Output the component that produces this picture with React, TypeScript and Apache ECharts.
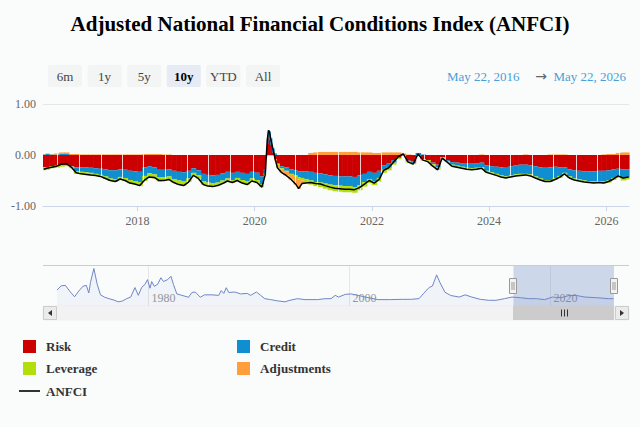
import React, { useEffect, useRef } from "react";
import * as echarts from "echarts";

const FONT = "'Liberation Serif', 'DejaVu Serif', serif";
const BG = "#fafbfb";

const titleText = "Adjusted National Financial Conditions Index (ANFCI)";
const rangeButtons = ["6m", "1y", "5y", "10y", "YTD", "All"];
const selectedButton = "10y";
const rangeStart = "2016-05-22";
const rangeEnd = "2026-05-22";
const rangeLabels = ["May 22, 2016", "May 22, 2026"];
const yTicks = [-1, 0, 1];
const navStart = "1971-01-01";
const navTicks = ["1980-01-01", "2000-01-01", "2020-01-01"];
const navTickLabels = ["1980", "2000", "2020"];

const dates = [
  "2016-05-27", "2016-06-15", "2016-07-15", "2016-08-15", "2016-09-15", "2016-10-15", "2016-11-15", "2016-12-15",
  "2017-01-15", "2017-02-15", "2017-03-15", "2017-04-15", "2017-05-15", "2017-06-15", "2017-07-15", "2017-08-15",
  "2017-09-15", "2017-10-15", "2017-11-15", "2017-12-15",
  "2018-01-15", "2018-02-15", "2018-03-15", "2018-04-15", "2018-05-15", "2018-06-15", "2018-07-15", "2018-08-15",
  "2018-09-15", "2018-10-15", "2018-11-15", "2018-12-15",
  "2019-01-15", "2019-02-15", "2019-03-15", "2019-04-15", "2019-05-15", "2019-06-15", "2019-07-15", "2019-08-15",
  "2019-09-15", "2019-10-15", "2019-11-15", "2019-12-15",
  "2020-01-15", "2020-02-15", "2020-03-06", "2020-03-13", "2020-03-20", "2020-03-27", "2020-04-03", "2020-04-10",
  "2020-04-24", "2020-05-08", "2020-05-22", "2020-06-15", "2020-07-15", "2020-08-15", "2020-09-15", "2020-10-01",
  "2020-10-22", "2020-11-15", "2020-12-15",
  "2021-01-15", "2021-02-15", "2021-03-15", "2021-04-15", "2021-05-15", "2021-06-15", "2021-07-15", "2021-08-15",
  "2021-09-15", "2021-10-15", "2021-11-15", "2021-12-15",
  "2022-01-15", "2022-02-15", "2022-03-15", "2022-04-15", "2022-05-15", "2022-06-15", "2022-07-15", "2022-08-15",
  "2022-09-15", "2022-10-15", "2022-11-15", "2022-12-15",
  "2023-01-15", "2023-02-15", "2023-03-15", "2023-04-15", "2023-05-15", "2023-06-15", "2023-07-15", "2023-08-15",
  "2023-09-15", "2023-10-15", "2023-11-15", "2023-12-15",
  "2024-01-15", "2024-02-15", "2024-03-15", "2024-04-15", "2024-05-15", "2024-06-15", "2024-07-15", "2024-08-15",
  "2024-09-15", "2024-10-15", "2024-11-15", "2024-12-15",
  "2025-01-15", "2025-02-15", "2025-03-15", "2025-04-15", "2025-05-15", "2025-06-15", "2025-07-15", "2025-08-15",
  "2025-09-15", "2025-10-15", "2025-11-15", "2025-12-15",
  "2026-01-15", "2026-02-15", "2026-03-15", "2026-04-15", "2026-05-20",
];

const anfci = [
  -0.28, -0.26, -0.24, -0.22, -0.18, -0.17, -0.24, -0.35,
  -0.37, -0.38, -0.39, -0.40, -0.42, -0.46, -0.50, -0.52, -0.47, -0.50, -0.55, -0.57,
  -0.60, -0.49, -0.43, -0.44, -0.50, -0.50, -0.48, -0.54, -0.58, -0.60, -0.53, -0.40,
  -0.46, -0.58, -0.61, -0.62, -0.60, -0.56, -0.51, -0.54, -0.50, -0.55, -0.58, -0.51,
  -0.54, -0.63, -0.40, -0.05, 0.30, 0.48, 0.45, 0.32, 0.12, -0.08, -0.25, -0.34, -0.40, -0.48, -0.58, -0.66,
  -0.56, -0.55, -0.54,
  -0.56, -0.57, -0.60, -0.63, -0.65, -0.66, -0.67, -0.67, -0.68, -0.64, -0.57, -0.50,
  -0.55, -0.48, -0.30, -0.25, -0.14, -0.03, 0.02, -0.14, -0.18, 0.02, -0.10, -0.13,
  -0.22, -0.29, -0.06, -0.14, -0.22, -0.24, -0.26, -0.28, -0.29, -0.28, -0.26, -0.34,
  -0.37, -0.40, -0.43, -0.45, -0.43, -0.41, -0.40, -0.39, -0.41, -0.45, -0.49, -0.52,
  -0.52, -0.48, -0.44, -0.37, -0.45, -0.49, -0.51, -0.53, -0.54, -0.55, -0.54, -0.55,
  -0.52, -0.47, -0.41, -0.45, -0.43,
];

const risk = [
  -0.24, -0.24, -0.22, -0.21, -0.19, -0.19, -0.22, -0.24,
  -0.24, -0.24, -0.25, -0.26, -0.27, -0.28, -0.30, -0.30, -0.28, -0.29, -0.31, -0.32,
  -0.33, -0.24, -0.22, -0.24, -0.29, -0.29, -0.28, -0.31, -0.33, -0.34, -0.31, -0.26,
  -0.30, -0.37, -0.39, -0.40, -0.39, -0.36, -0.33, -0.35, -0.33, -0.35, -0.37, -0.33,
  -0.35, -0.42, -0.28, 0.0, 0.22, 0.33, 0.30, 0.20, 0.05, -0.08, -0.17, -0.22, -0.24, -0.28, -0.30, -0.32,
  -0.32, -0.32, -0.33,
  -0.35, -0.36, -0.38, -0.40, -0.41, -0.42, -0.42, -0.42, -0.43, -0.40, -0.37, -0.33,
  -0.35, -0.31, -0.20, -0.17, -0.10, -0.04, 0.0, -0.11, -0.13, -0.01, -0.08, -0.10,
  -0.15, -0.19, -0.04, -0.10, -0.14, -0.15, -0.16, -0.17, -0.17, -0.16, -0.15, -0.20,
  -0.22, -0.23, -0.24, -0.25, -0.22, -0.20, -0.19, -0.19, -0.20, -0.22, -0.24, -0.25,
  -0.24, -0.23, -0.24, -0.24, -0.28, -0.30, -0.31, -0.32, -0.32, -0.32, -0.31, -0.31,
  -0.30, -0.28, -0.27, -0.28, -0.28,
];

const credit = [
  0.01, 0.02, 0.01, 0.01, 0.03, 0.03, -0.01, -0.08,
  -0.09, -0.10, -0.10, -0.11, -0.12, -0.14, -0.16, -0.17, -0.15, -0.16, -0.18, -0.19,
  -0.20, -0.17, -0.14, -0.14, -0.15, -0.15, -0.14, -0.16, -0.17, -0.18, -0.15, -0.09,
  -0.10, -0.14, -0.15, -0.15, -0.15, -0.14, -0.13, -0.14, -0.12, -0.14, -0.15, -0.13,
  -0.14, -0.15, -0.08, -0.03, 0.08, 0.16, 0.16, 0.13, 0.08, 0.03, 0.0, -0.04, -0.07, -0.09, -0.10, -0.12,
  -0.13, -0.15, -0.17,
  -0.18, -0.18, -0.18, -0.18, -0.18, -0.18, -0.19, -0.19, -0.20, -0.19, -0.16, -0.14,
  -0.16, -0.14, -0.09, -0.08, -0.05, -0.02, 0.0, -0.02, -0.03, 0.04, 0.01, 0.0,
  -0.03, -0.05, 0.0, -0.02, -0.05, -0.06, -0.07, -0.08, -0.09, -0.09, -0.09, -0.11,
  -0.12, -0.14, -0.16, -0.17, -0.18, -0.18, -0.18, -0.18, -0.18, -0.20, -0.22, -0.24,
  -0.25, -0.22, -0.17, -0.11, -0.14, -0.16, -0.17, -0.18, -0.19, -0.20, -0.20, -0.21,
  -0.20, -0.17, -0.14, -0.17, -0.16,
];

const leverage = [
  -0.06, -0.05, -0.04, -0.04, -0.04, -0.03, -0.03, -0.05,
  -0.05, -0.05, -0.05, -0.04, -0.04, -0.05, -0.05, -0.06, -0.05, -0.06, -0.07, -0.07,
  -0.08, -0.10, -0.09, -0.08, -0.08, -0.07, -0.07, -0.07, -0.08, -0.08, -0.07, -0.05,
  -0.06, -0.07, -0.07, -0.07, -0.06, -0.06, -0.05, -0.05, -0.05, -0.06, -0.06, -0.05,
  -0.05, -0.06, -0.04, -0.02, 0.0, -0.01, -0.01, -0.01, -0.01, -0.02, -0.03, -0.03, -0.02, -0.02, -0.03, -0.04,
  -0.05, -0.08, -0.08,
  -0.08, -0.09, -0.10, -0.11, -0.12, -0.12, -0.12, -0.12, -0.11, -0.10, -0.09, -0.08,
  -0.08, -0.07, -0.06, -0.05, -0.04, -0.02, -0.01, -0.02, -0.02, -0.01, -0.02, -0.02,
  -0.03, -0.04, -0.02, -0.02, -0.03, -0.03, -0.03, -0.03, -0.03, -0.03, -0.03, -0.03,
  -0.03, -0.03, -0.03, -0.03, -0.03, -0.03, -0.03, -0.03, -0.03, -0.03, -0.03, -0.03,
  -0.04, -0.04, -0.04, -0.03, -0.03, -0.03, -0.03, -0.03, -0.03, -0.03, -0.03, -0.04,
  -0.04, -0.04, -0.04, -0.05, -0.04,
];

const adjustments = [
  0.01, 0.01, 0.01, 0.02, 0.02, 0.02, 0.02, 0.02,
  0.01, 0.01, 0.01, 0.01, 0.01, 0.01, 0.01, 0.01, 0.01, 0.01, 0.01, 0.01,
  0.01, 0.02, 0.02, 0.02, 0.02, 0.01, 0.01, 0.0, 0.0, 0.0, 0.0, 0.0,
  0.0, 0.0, 0.0, 0.0, 0.0, 0.0, 0.0, 0.0, 0.0, 0.0, 0.0, 0.0,
  0.0, 0.0, 0.0, 0.0, 0.0, 0.0, 0.0, 0.0, 0.0, -0.01, -0.05, -0.05, -0.07, -0.09, -0.15, -0.18,
  -0.06, 0.0, 0.04,
  0.05, 0.06, 0.06, 0.06, 0.06, 0.06, 0.06, 0.06, 0.06, 0.05, 0.05, 0.05,
  0.04, 0.04, 0.05, 0.05, 0.05, 0.05, 0.03, 0.01, 0.0, 0.0, -0.01, -0.01,
  -0.01, -0.01, 0.0, 0.0, 0.0, 0.0, 0.0, 0.0, 0.0, 0.0, 0.01, 0.0,
  0.0, 0.0, 0.0, 0.0, 0.0, 0.0, 0.0, 0.01, 0.0, 0.0, 0.0, 0.0,
  0.01, 0.01, 0.01, 0.01, 0.0, 0.0, 0.0, 0.0, 0.0, 0.0, 0.0, 0.01,
  0.02, 0.02, 0.04, 0.05, 0.05,
];

// Faint vertical seams visible across the stacked columns in the picture
const seamDates = [
  "2016-08-20", "2017-01-01", "2017-05-16", "2017-09-24", "2018-02-06", "2018-06-23", "2018-11-05", "2019-03-19",
  "2019-07-31", "2019-12-19", "2020-09-09", "2021-01-22", "2021-06-06", "2021-10-16", "2022-02-28", "2022-11-20",
  "2023-04-01", "2023-08-17", "2023-12-30", "2024-05-11", "2024-09-23", "2025-02-02", "2025-06-28", "2025-11-03",
  "2026-03-18",
];

const navDates = [
  "1971-01", "1971-06", "1971-11", "1972-05", "1972-10", "1973-03", "1973-08", "1973-12",
  "1974-03", "1974-05", "1974-09", "1975-01", "1975-05", "1975-10", "1976-03", "1976-09",
  "1977-02", "1977-07", "1977-12", "1978-05", "1978-10", "1979-02", "1979-06", "1979-10",
  "1980-01", "1980-04", "1980-06", "1980-09", "1981-01", "1981-05", "1981-08", "1982-01",
  "1982-05", "1982-08", "1982-12", "1983-06", "1984-02", "1984-06", "1984-10", "1985-04",
  "1985-09", "1986-06", "1987-02", "1987-05", "1987-08", "1987-11", "1988-02", "1988-09",
  "1989-04", "1989-12", "1990-04", "1990-11", "1991-04", "1991-09", "1992-04", "1992-12",
  "1993-09", "1994-03", "1994-12", "1995-09", "1996-12", "1997-09", "1998-04", "1998-09",
  "1999-01", "1999-09", "2000-04", "2000-12", "2001-09", "2002-12", "2004-02", "2005-05",
  "2006-03", "2007-01", "2007-06", "2008-01", "2008-05", "2008-10", "2009-02", "2009-08",
  "2010-03", "2011-01", "2011-08", "2012-04", "2013-02", "2013-12", "2014-09", "2015-07",
  "2016-04", "2017-02", "2017-12", "2018-09", "2019-07", "2020-04", "2021-02", "2021-12",
  "2022-09", "2023-07", "2024-09", "2025-11", "2026-05",
];

const navValues = [
  0.4, 0.85, 0.9, 0.2, -0.3, 0.3, 0.8, 0.9,
  0.1, 1.2, 2.67, 1.0, -0.1, -0.35, -0.5, -0.65,
  -0.83, -0.75, -0.5, -0.33, 0.67, -0.15, 0.67, 1.0,
  1.5, 0.6, 1.3, 0.8, 1.0, 1.7, 1.3, 1.5,
  1.85, 1.0, 0.0, -0.15, -0.35, 0.15, 0.2, -0.35,
  -0.1, -0.1, -0.15, 0.35, 0.05, 0.65, 0.15, 0.2,
  0.0, 0.05, -0.15, 0.2, -0.15, -0.5, -0.6, -0.73,
  -0.83, -0.67, -0.5, -0.6, -0.6, -0.5, -0.5, -0.15,
  -0.33, -0.05, 0.0, -0.15, -0.33, -0.6, -0.6, -0.57,
  -0.57, -0.5, 0.0, 0.67, 0.83, 2.0, 1.17, 0.17,
  -0.17, -0.33, -0.1, -0.33, -0.57, -0.67, -0.67, -0.5,
  -0.33, -0.4, -0.5, -0.5, -0.6, -0.33, -0.4, -0.17,
  -0.17, -0.33, -0.4, -0.5, -0.5,
];

const componentNames = ["Risk", "Credit", "Leverage", "Adjustments"];
const componentValues = [risk, credit, leverage, adjustments];
const componentColors = ["#cc0000", "#0f8fcf", "#b2de0b", "#ff9e3a"];

const toTime = (d: string) => new Date(d + "T00:00:00Z").getTime();

// Stacked column segments [start, end, base, top] per component (same-sign stacking),
// plus the total positive/negative extent of each column.
function buildStacks() {
  const times = dates.map(toTime);
  const startT = toTime(rangeStart);
  const endT = toTime(rangeEnd);
  const out: number[][][] = componentValues.map(() => []);
  const extents: number[][] = [];
  for (let i = 0; i < times.length; i++) {
    const s = i === 0 ? startT : (times[i - 1] + times[i]) / 2;
    const e = i === times.length - 1 ? endT : (times[i] + times[i + 1]) / 2;
    let pos = 0;
    let neg = 0;
    componentValues.forEach((vals, k) => {
      const v = vals[i];
      if (v >= 0) {
        out[k].push([s, e, pos, pos + v]);
        pos += v;
      } else {
        out[k].push([s, e, neg, neg + v]);
        neg += v;
      }
    });
    extents.push([s, e, pos, neg]);
  }
  return { out, extents };
}

function columnSeries(name: string, data: number[][], color: string) {
  return {
    name,
    type: "custom",
    xAxisIndex: 0,
    yAxisIndex: 0,
    data,
    encode: { x: [0, 1], y: [2, 3] },
    itemStyle: { color },
    silent: true,
    z: 2,
    renderItem: (params: any, api: any) => {
      const p0 = api.coord([api.value(0), api.value(2)]);
      const p1 = api.coord([api.value(1), api.value(3)]);
      const h = Math.abs(p1[1] - p0[1]);
      if (h < 0.01) return null;
      return {
        type: "rect",
        shape: {
          x: Math.min(p0[0], p1[0]),
          y: Math.min(p0[1], p1[1]),
          width: Math.abs(p1[0] - p0[0]) + 0.6,
          height: h,
        },
        style: { fill: color },
      };
    },
  };
}

function legendAt(name: string, left: number, top: number, isLine = false) {
  return {
    data: [name],
    left,
    top,
    orient: "horizontal",
    padding: 0,
    selectedMode: false,
    icon: isLine ? "path://M0,0H21V1.6H0Z" : "rect",
    itemWidth: isLine ? 21 : 13,
    itemHeight: isLine ? 1.6 : 13,
    textStyle: {
      fontFamily: FONT,
      fontWeight: "bold",
      fontSize: 13,
      color: "#333333",
      padding: [0, 0, 0, isLine ? 1 : 5],
    },
  };
}

function baseGraphics() {
  const g: any[] = [];
  rangeButtons.forEach((label, i) => {
    const x = 48 + i * 39.6;
    const selected = label === selectedButton;
    g.push({
      type: "rect",
      shape: { x, y: 65, width: 34, height: 22, r: 2 },
      style: { fill: selected ? "#e6ebf5" : "#f3f4f4" },
    });
    g.push({
      type: "text",
      style: {
        x: x + 17, y: 76, text: label, align: "center", verticalAlign: "middle",
        fontFamily: FONT, fontSize: 13, fontWeight: selected ? "bold" : "normal",
        fill: selected ? "#000000" : "#444444",
      },
    });
  });
  g.push(
    { type: "text", style: { x: 447, y: 76, text: rangeLabels[0], align: "left", verticalAlign: "middle", fontFamily: FONT, fontSize: 13, fill: "#4a9fd8" } },
    { type: "text", style: { x: 541, y: 76, text: "→", align: "center", verticalAlign: "middle", fontFamily: "'DejaVu Sans', sans-serif", fontSize: 14, fill: "#666666" } },
    { type: "text", style: { x: 626, y: 76, text: rangeLabels[1], align: "right", verticalAlign: "middle", fontFamily: FONT, fontSize: 13, fill: "#4a9fd8" } },
  );
  g.push(
    { type: "line", shape: { x1: 43, y1: 265.5, x2: 629, y2: 265.5 }, style: { stroke: "#cccccc", lineWidth: 1 } },
    { type: "rect", shape: { x: 43, y: 306, width: 586, height: 14 }, style: { fill: "#f2f2f2", stroke: "#f2f2f2" } },
    { type: "rect", shape: { x: 43.5, y: 306.5, width: 13, height: 13 }, style: { fill: "#ebebeb", stroke: "#cccccc" } },
    { type: "polygon", shape: { points: [[52, 310], [52, 316], [48, 313]] }, style: { fill: "#333333" } },
    { type: "rect", shape: { x: 615.5, y: 306.5, width: 13, height: 13 }, style: { fill: "#ebebeb", stroke: "#cccccc" } },
    { type: "polygon", shape: { points: [[620, 310], [620, 316], [624, 313]] }, style: { fill: "#333333" } },
  );
  return g;
}

function navGraphics(chart: any) {
  const g: any[] = [];
  const y0 = 266;
  const y1 = 306;
  navTicks.forEach((d, i) => {
    const x = Math.round(chart.convertToPixel({ xAxisIndex: 1 }, toTime(d))) + 0.5;
    g.push({ type: "line", z: 1, shape: { x1: x, y1: y0, x2: x, y2: y1 }, style: { stroke: "#e6e6e6", lineWidth: 1 } });
    g.push({
      type: "text",
      z: 1,
      style: { x: x + 3, y: 298, text: navTickLabels[i], align: "left", verticalAlign: "middle", fontFamily: FONT, fontSize: 12, fill: "#999999" },
    });
  });
  const xs = Math.round(chart.convertToPixel({ xAxisIndex: 1 }, toTime(rangeStart)));
  const xe = Math.round(chart.convertToPixel({ xAxisIndex: 1 }, toTime(rangeEnd)));
  g.push({ type: "rect", shape: { x: xs, y: 306, width: xe - xs, height: 14 }, style: { fill: "#cccccc" } });
  const mid = Math.round((xs + xe) / 2);
  [-3, 0, 3].forEach((dx) => {
    g.push({ type: "line", shape: { x1: mid + dx + 0.5, y1: 309.5, x2: mid + dx + 0.5, y2: 316.5 }, style: { stroke: "#333333", lineWidth: 1 } });
  });
  [xs, xe].forEach((x) => {
    g.push({ type: "rect", z: 10, shape: { x: x - 3.5, y: 278.5, width: 7, height: 15 }, style: { fill: "#f2f2f2", stroke: "#999999", lineWidth: 1 } });
    g.push({ type: "line", z: 10, shape: { x1: x - 1, y1: 282, x2: x - 1, y2: 290 }, style: { stroke: "#999999", lineWidth: 1 } });
    g.push({ type: "line", z: 10, shape: { x1: x + 1, y1: 282, x2: x + 1, y2: 290 }, style: { stroke: "#999999", lineWidth: 1 } });
  });
  return g;
}

function buildOption() {
  const { out: stacks, extents } = buildStacks();
  const seamData = seamDates.map((d) => {
    const t = toTime(d);
    const ext = extents.find((x) => t >= x[0] && t < x[1]) || extents[extents.length - 1];
    return [t, ext[2], ext[3]];
  });
  return {
    animation: false,
    backgroundColor: BG,
    textStyle: { fontFamily: FONT },
    title: {
      text: titleText,
      left: "center",
      top: 8,
      textStyle: { fontFamily: FONT, fontSize: 21, fontWeight: "bold", color: "#000000" },
    },
    legend: [
      legendAt("Risk", 23, 340),
      legendAt("Credit", 237, 340),
      legendAt("Leverage", 23, 362),
      legendAt("Adjustments", 237, 362),
      legendAt("ANFCI", 19, 384.5, true),
    ],
    grid: [
      { left: 43, right: 11, top: 104, height: 102, containLabel: false },
      { left: 57, right: 26, top: 266, height: 40, containLabel: false },
    ],
    xAxis: [
      {
        type: "time",
        gridIndex: 0,
        min: rangeStart,
        max: rangeEnd,
        splitNumber: 5,
        axisLine: { show: true, onZero: false, lineStyle: { color: "#ccd6eb" } },
        axisTick: { show: true, length: 5, lineStyle: { color: "#ccd6eb" } },
        axisLabel: { color: "#666666", fontSize: 12, fontFamily: FONT, margin: 9, formatter: "{yyyy}" },
        splitLine: { show: false },
      },
      {
        type: "time",
        gridIndex: 1,
        min: navStart,
        max: rangeEnd,
        show: false,
      },
    ],
    yAxis: [
      {
        type: "value",
        gridIndex: 0,
        min: yTicks[0],
        max: yTicks[yTicks.length - 1],
        interval: 1,
        axisLine: { show: false },
        axisTick: { show: false },
        axisLabel: { color: "#666666", fontSize: 12, fontFamily: FONT, margin: 7, formatter: (v: number) => v.toFixed(2) },
        splitLine: { show: true, lineStyle: { color: "#e6e6e6", width: 1 } },
      },
      { type: "value", gridIndex: 1, min: -1.27, max: 2.93, show: false },
    ],
    series: [
      ...componentNames.map((n, k) => columnSeries(n, stacks[k], componentColors[k])),
      {
        name: "seams",
        type: "custom",
        xAxisIndex: 0,
        yAxisIndex: 0,
        data: seamData,
        encode: { x: 0, y: [1, 2] },
        silent: true,
        z: 3,
        renderItem: (params: any, api: any) => {
          const a = api.coord([api.value(0), api.value(1)]);
          const b = api.coord([api.value(0), api.value(2)]);
          const x = Math.round(a[0]) + 0.5;
          return { type: "line", shape: { x1: x, y1: a[1], x2: x, y2: b[1] }, style: { stroke: "#ffffff", opacity: 0.8, lineWidth: 1 } };
        },
      },
      {
        name: "ANFCI",
        type: "line",
        xAxisIndex: 0,
        yAxisIndex: 0,
        data: dates.map((d, i) => [d, anfci[i]]),
        symbol: "none",
        showSymbol: false,
        lineStyle: { width: 1.5, color: "#000000" },
        itemStyle: { color: "#000000" },
        z: 4,
        silent: true,
      },
      {
        name: "navigator",
        type: "line",
        xAxisIndex: 1,
        yAxisIndex: 1,
        data: navDates.map((d, i) => [d, navValues[i]]),
        symbol: "none",
        showSymbol: false,
        lineStyle: { width: 1, color: "#6f87c6" },
        areaStyle: { color: "rgba(51,92,173,0.07)", origin: "start" },
        silent: true,
        z: 2,
        markArea: {
          silent: true,
          itemStyle: { color: "rgba(102,133,194,0.3)" },
          data: [[{ xAxis: rangeStart }, { xAxis: rangeEnd }]],
        },
      },
    ],
    graphic: baseGraphics(),
  };
}

export default function App() {
  const ref = useRef<HTMLDivElement>(null);
  useEffect(() => {
    if (!ref.current) return;
    const chart = echarts.init(ref.current, null, { renderer: "svg" });
    chart.setOption(buildOption() as any);
    chart.setOption({ graphic: [...baseGraphics(), ...navGraphics(chart)] } as any);
    return () => chart.dispose();
  }, []);
  return (
    <div ref={ref} style={{ position: "fixed", left: 0, top: 0, width: 640, height: 427, background: BG }} />
  );
}
